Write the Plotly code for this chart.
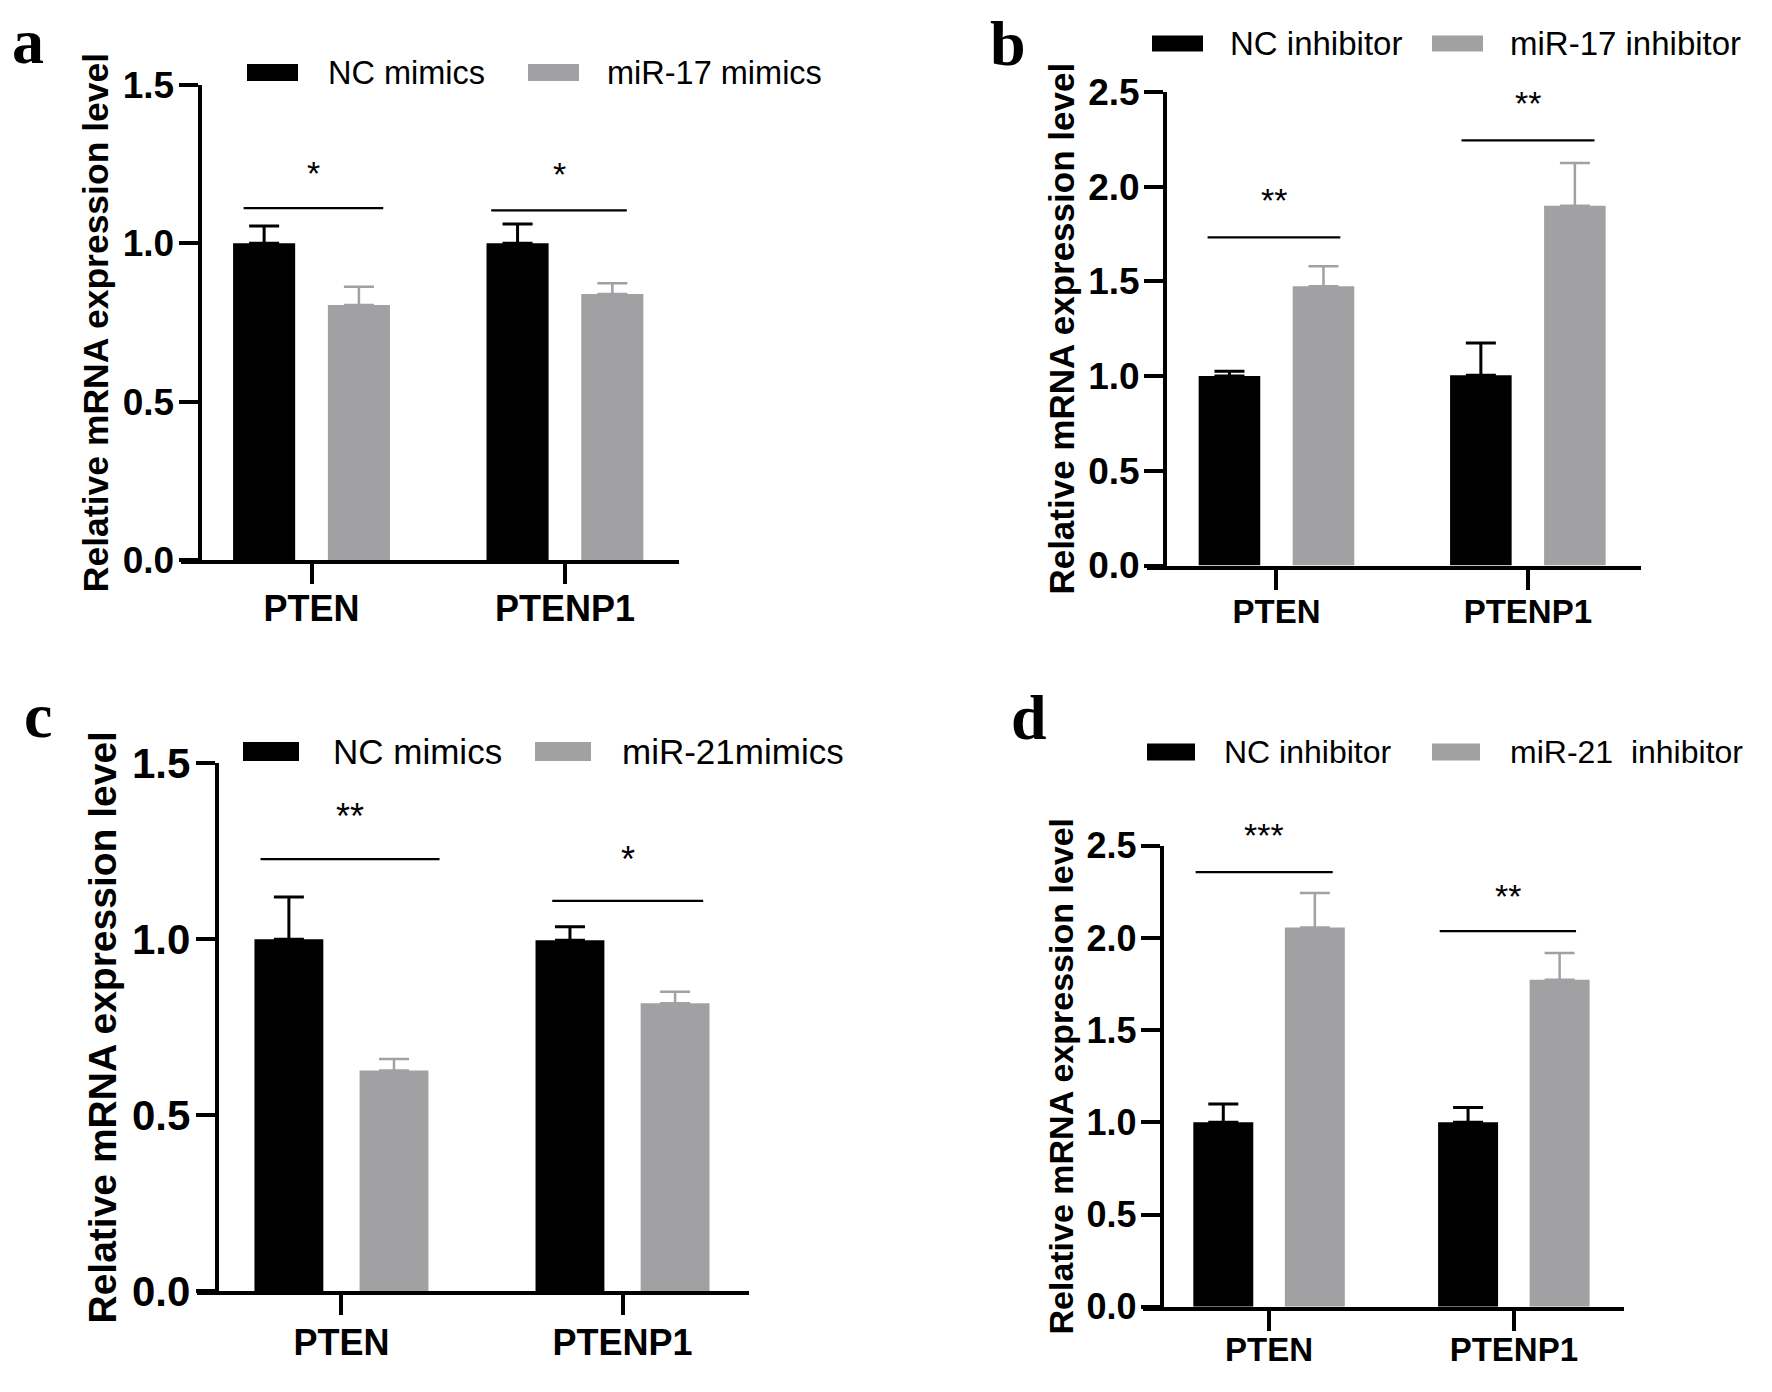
import plotly.graph_objects as go

W, H = 1772, 1392

categories = ["PTEN", "PTENP1"]

# a
a_names = ["NC mimics", "miR-17 mimics"]
a_nc = [1.0, 1.0]
a_nc_err = [0.055, 0.061]
a_mir = [0.805, 0.84]
a_mir_err = [0.058, 0.034]
a_sig_y = [1.111, 1.104]
a_stars = ["*", "*"]
a_star_y = [1.247, 1.242]

# b
b_names = ["NC inhibitor", "miR-17 inhibitor"]
b_nc = [1.0, 1.005]
b_nc_err = [0.025, 0.17]
b_mir = [1.475, 1.9]
b_mir_err = [0.105, 0.225]
b_sig_y = [1.732, 2.245]
b_stars = ["**", "**"]
b_star_y = [1.968, 2.483]

# c
c_names = ["NC mimics", "miR-21mimics"]
c_nc = [1.0, 0.997]
c_nc_err = [0.12, 0.039]
c_mir = [0.627, 0.818]
c_mir_err = [0.033, 0.033]
c_sig_y = [1.228, 1.109]
c_stars = ["**", "*"]
c_star_y = [1.37, 1.25]

# d
d_names = ["NC inhibitor", "miR-21  inhibitor"]
d_nc = [1.0, 1.0]
d_nc_err = [0.10, 0.081]
d_mir = [2.057, 1.773]
d_mir_err = [0.187, 0.146]
d_sig_y = [2.357, 2.037]
d_stars = ["***", "**"]
d_star_y = [2.6, 2.27]

y_title = "Relative mRNA expression level"

BLACK = "#000000"
GRAY = "#a1a1a4"
SANS = "Liberation Sans, Arial, sans-serif"
SERIF = "Liberation Serif, Times New Roman, serif"


def px(x):
    return x / W


def py(y):
    return 1 - y / H


# pixel geometry of each panel
panels = [
    dict(label="a", names=a_names, nc=a_nc, nc_err=a_nc_err, mir=a_mir, mir_err=a_mir_err,
         sig_y=a_sig_y, stars=a_stars, star_y=a_star_y,
         span=[(-0.268, 0.283), (-0.291, 0.244)],
         x0=181, x1=679, ytop=85, ybot=560, yline=199.5, ymax=1.5,
         tick=37, title=35.5, cat=36, leg=32.5, star=34, cat_pad=-6,
         leg_y=72.5, leg_box=[247, 528], leg_txt=[328, 607], box_w=51, box_h=17,
         lab_x=12, lab_base=65),
    dict(label="b", names=b_names, nc=b_nc, nc_err=b_nc_err, mir=b_mir, mir_err=b_mir_err,
         sig_y=b_sig_y, stars=b_stars, star_y=b_star_y,
         span=[(-0.274, 0.254), (-0.264, 0.265)],
         x0=1147, x1=1641, ytop=92, ybot=565.5, yline=1165, ymax=2.5,
         tick=37, title=35, cat=33, leg=33, star=34, cat_pad=-6,
         leg_y=43.5, leg_box=[1152, 1432], leg_txt=[1230, 1510], box_w=51, box_h=16,
         lab_x=990, lab_base=67),
    dict(label="c", names=c_names, nc=c_nc, nc_err=c_nc_err, mir=c_mir, mir_err=c_mir_err,
         sig_y=c_sig_y, stars=c_stars, star_y=c_star_y,
         span=[(-0.288, 0.349), (-0.250, 0.287)],
         x0=196.7, x1=749, ytop=763.3, ybot=1291.3, yline=216.7, ymax=1.5,
         tick=42, title=39, cat=36, leg=35, star=36, cat_pad=-4,
         leg_y=751.5, leg_box=[243, 535], leg_txt=[333, 622], box_w=56, box_h=19,
         lab_x=24, lab_base=739),
    dict(label="d", names=d_names, nc=d_nc, nc_err=d_nc_err, mir=d_mir, mir_err=d_mir_err,
         sig_y=d_sig_y, stars=d_stars, star_y=d_star_y,
         span=[(-0.30, 0.26), (-0.303, 0.254)],
         x0=1143, x1=1624, ytop=845.8, ybot=1306.7, yline=1161.7, ymax=2.5,
         tick=36, title=34, cat=33, leg=32, star=34, cat_pad=-9,
         leg_y=752, leg_box=[1147, 1432], leg_txt=[1224, 1510], box_w=48, box_h=17,
         lab_x=1011, lab_base=741),
]

fig = go.Figure()
shapes = []
annotations = []

for i, p in enumerate(panels):
    n = "" if i == 0 else str(i + 1)
    xa, ya = "x" + n, "y" + n

    for vals, errs, colour, name, thick in [(p["nc"], p["nc_err"], BLACK, p["names"][0], 3),
                                            (p["mir"], p["mir_err"], GRAY, p["names"][1], 2.5)]:
        fig.add_trace(go.Bar(
            x=categories, y=vals, name=name, xaxis=xa, yaxis=ya,
            marker=dict(color=colour, line=dict(width=0)),
            error_y=dict(type="data", array=errs, arrayminus=[0] * len(errs),
                         symmetric=False, color=colour, thickness=thick, width=15),
            showlegend=False,
        ))

    fig.update_layout({
        "xaxis" + n: dict(
            domain=[px(p["x0"]), px(p["x1"])], anchor=ya, range=[-0.515, 1.45],
            automargin=False,
            showline=True, linecolor=BLACK, linewidth=4, ticks="outside",
            ticklen=20, tickwidth=3.5, tickcolor=BLACK, showgrid=False, zeroline=False,
            ticklabelstandoff=p["cat_pad"],
            tickfont=dict(family=SANS, size=p["cat"], color=BLACK, weight="bold"),
        ),
        "yaxis" + n: dict(
            domain=[py(p["ybot"]), py(p["ytop"])], anchor="free", position=px(p["yline"]),
            range=[0, p["ymax"]], dtick=0.5, tickformat=".1f", automargin=False,
            showline=True, linecolor=BLACK, linewidth=4, ticks="outside",
            ticklen=19, tickwidth=3.5, tickcolor=BLACK, showgrid=False, zeroline=False,
            ticklabelstandoff=-3,
            tickfont=dict(family=SANS, size=p["tick"], color=BLACK, weight="bold"),
            title=dict(text=y_title, standoff=2,
                       font=dict(family=SANS, size=p["title"], color=BLACK, weight="bold")),
        ),
    })

    # significance bars and stars
    for k, (s0, s1) in enumerate(p["span"]):
        shapes.append(dict(type="line", xref=xa, yref=ya, x0=k + s0, x1=k + s1,
                           y0=p["sig_y"][k], y1=p["sig_y"][k],
                           line=dict(color=BLACK, width=2.2)))
        annotations.append(dict(xref=xa, yref=ya + " domain", x=k + (s0 + s1) / 2,
                                y=p["star_y"][k] / p["ymax"],
                                text=p["stars"][k], showarrow=False, yanchor="middle",
                                yshift=-0.22 * p["star"],
                                font=dict(family=SANS, size=p["star"], color=BLACK)))

    # legend drawn by hand so the swatches are wide rectangles
    for k, colour in enumerate([BLACK, GRAY]):
        bx = p["leg_box"][k]
        shapes.append(dict(type="rect", xref="paper", yref="paper",
                           x0=px(bx), x1=px(bx + p["box_w"]),
                           y0=py(p["leg_y"] + p["box_h"] / 2), y1=py(p["leg_y"] - p["box_h"] / 2),
                           fillcolor=colour, line=dict(width=0)))
        annotations.append(dict(xref="paper", yref="paper", x=px(p["leg_txt"][k] - 2),
                                y=py(p["leg_y"]), text=p["names"][k].replace("  ", "&nbsp; "),
                                showarrow=False, xanchor="left", yanchor="middle",
                                font=dict(family=SANS, size=p["leg"], color=BLACK)))

    # panel letter
    annotations.append(dict(xref="paper", yref="paper", x=px(p["lab_x"] - 2),
                            y=py(p["lab_base"] + 14), text=p["label"], showarrow=False,
                            xanchor="left", yanchor="bottom",
                            font=dict(family=SERIF, size=64, color=BLACK, weight="bold")))

fig.update_layout(
    width=W, height=H,
    margin=dict(l=0, r=0, t=0, b=0, autoexpand=False),
    paper_bgcolor="white", plot_bgcolor="white",
    barmode="group", bargap=0.252, bargroupgap=0.345,
    shapes=shapes, annotations=annotations,
)

# the page body has a default 8px margin; drop it so the figure sits at the window corner
fig.write_html("out.html", config={"displayModeBar": False},
               post_script="document.body.style.margin='0px';")
